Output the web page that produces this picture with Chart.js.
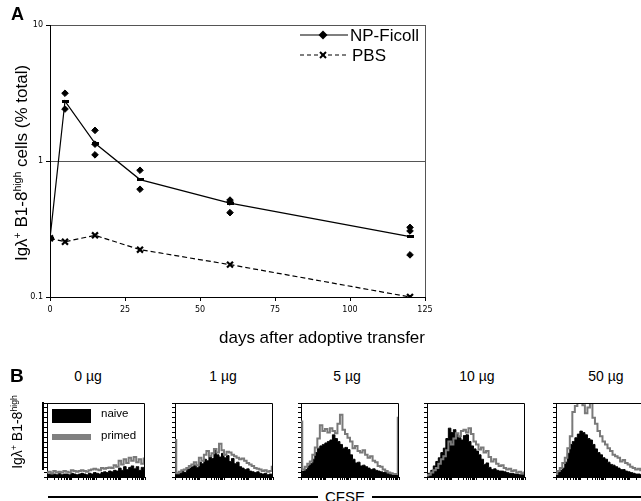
<!DOCTYPE html>
<html lang="en">
<head>
<meta charset="UTF-8">
<title>Igλ+ B1-8high cells after adoptive transfer</title>
<script src="https://cdn.jsdelivr.net/npm/chart.js"></script>
<style>
  body { margin: 0; width: 641px; height: 501px; overflow: hidden; background: #fff; position: relative;
         font-family: "Liberation Sans", Arial, sans-serif; color: #000; }
  canvas { position: absolute; }
  .txt { position: absolute; white-space: nowrap; }
  .rot { transform: rotate(-90deg); text-align: center; }
  sup { font-size: 0.62em; vertical-align: 0.55em; line-height: 0; }
</style>
</head>
<body>

<canvas id="chartA" width="641" height="353" style="left:0;top:0"></canvas>

<div class="txt" style="left:11px;top:4px;font-weight:bold;font-size:18px">A</div>
<div class="txt rot" style="left:-88px;top:153px;width:220px;height:20px;line-height:20px;font-size:17px">Igλ<sup>+</sup> B1-8<sup>high</sup> cells (% total)</div>
<div class="txt" style="right:216px;top:329px;font-size:17px;line-height:17px">days after adoptive transfer</div>

<div class="txt" style="left:10px;top:365px;font-weight:bold;font-size:19px">B</div>
<div id="doseRow"></div>
<div class="txt rot" style="left:-43px;top:422px;width:120px;height:20px;line-height:20px;font-size:14px">Igλ<sup>+</sup> B1-8<sup>high</sup></div>
<div style="position:absolute;left:42px;top:402px;width:2px;height:68px;background:#000"></div>

<div id="histRow"></div>

<!-- legenda do primeiro histograma -->
<div style="position:absolute;left:52px;top:409px;width:39px;height:14px;background:#000"></div>
<div class="txt" style="left:101px;top:407px;font-size:11.5px">naive</div>
<div style="position:absolute;left:52px;top:434px;width:39px;height:6px;background:#808080"></div>
<div class="txt" style="left:101px;top:429px;font-size:11.5px">primed</div>

<div style="position:absolute;left:48px;top:496px;width:600px;height:1.5px;background:#000"></div>
<div class="txt" style="left:318px;top:488px;padding:0 7px;background:#fff;font-size:15px">CFSE</div>

<script>
// ---- painel A ----
const days = [0, 5, 15, 30, 60, 120];
const npFicollMean = [0.27, 2.76, 1.35, 0.73, 0.49, 0.278];
const pbsMean = [0.27, 0.255, 0.284, 0.223, 0.173, 0.1];
const npMouseDays = [5, 5, 15, 15, 15, 30, 30, 60, 60, 60, 120, 120, 120];
const npMouseValues = [3.15, 2.41, 1.68, 1.33, 1.11, 0.855, 0.62, 0.516, 0.50, 0.417, 0.325, 0.306, 0.204];
const xTicksA = [0, 25, 50, 75, 100, 125];
const yTicksA = [0.1, 1, 10];

// ---- painel B (histogramas CFSE, 40 bins, % da altura da caixa) ----
const doses = ['0 µg', '1 µg', '5 µg', '10 µg', '50 µg'];
const naive0 = [3,4,3,4,3,5,3,4,4,3,5,4,3,4,5,4,3,5,4,6,5,4,6,7,6,8,7,9,8,12,9,14,10,13,15,11,14,9,13,10];
const primed0 = [6,7,5,8,6,7,6,8,7,6,9,8,7,8,9,8,7,9,10,11,10,9,12,11,12,13,12,16,14,22,17,24,19,26,22,27,20,24,18,25];
const naive1 = [22,4,5,8,6,10,12,14,16,13,20,18,24,22,28,25,37,30,27,32,26,29,21,25,18,20,14,12,10,11,8,7,6,7,5,4,5,3,4,3];
const primed1 = [50,5,7,9,10,12,15,17,20,16,26,22,30,35,28,32,38,33,45,36,30,34,33,30,28,26,24,25,22,19,17,15,12,11,10,8,9,7,8,14];
const naive5 = [4,8,10,15,18,24,33,39,42,44,46,48,50,57,52,48,44,39,40,37,30,24,19,20,15,16,14,12,10,11,9,8,7,6,6,5,4,3,3,2];
const primed5 = [75,10,14,18,21,30,40,52,70,62,65,60,66,62,59,72,84,64,58,53,48,39,42,35,33,36,30,26,28,22,20,15,14,10,8,6,5,4,4,80];
const naive10 = [3,5,9,15,21,26,33,39,52,66,60,64,58,53,50,56,57,48,42,38,35,30,24,17,19,13,10,11,9,8,8,7,6,5,5,4,4,3,3,3];
const primed10 = [2,3,6,9,12,18,24,28,36,48,44,52,59,55,62,64,60,66,58,48,44,37,40,33,35,27,21,24,18,15,16,12,10,11,8,9,6,7,5,6];
const naive50 = [3,6,9,12,20,32,44,48,53,58,62,60,57,52,50,44,38,33,30,26,24,20,17,16,14,12,10,10,8,7,6,5,4,4,3,3,3,2,2,2];
const primed50 = [4,8,12,19,26,39,55,88,96,100,100,97,86,94,100,80,72,62,55,48,44,39,35,30,28,26,21,23,19,17,14,12,10,11,9,8,7,6,6,5];
const naiveAll = [naive0, naive1, naive5, naive10, naive50];
const primedAll = [primed0, primed1, primed5, primed10, primed50];

// layout do painel B
const boxLeft = [47, 175, 301, 427, 556];
const doseCenter = [88, 223, 347, 477, 606];
const boxTop = 403, boxW = 98, boxH = 74;

const tickFont = { family: 'DejaVu Sans', size: 8 };

// marcador da media: tracinho horizontal
const dash = document.createElement('canvas');
dash.width = 7; dash.height = 3;
dash.getContext('2d').fillRect(0, 0, 7, 3);

const legendA = {
    id: 'legendA',
    afterDraw(chart) {
        const ctx = chart.ctx;
        const x0 = chart.chartArea.right - 125;
        const y1 = chart.chartArea.top + 10, y2 = chart.chartArea.top + 30;
        ctx.save();
        ctx.strokeStyle = '#000'; ctx.fillStyle = '#000';
        ctx.lineWidth = 1.2;
        ctx.beginPath(); ctx.moveTo(x0, y1); ctx.lineTo(x0 + 48, y1); ctx.stroke();
        ctx.beginPath();
        ctx.moveTo(x0 + 23, y1 - 4.5); ctx.lineTo(x0 + 27.5, y1); ctx.lineTo(x0 + 23, y1 + 4.5); ctx.lineTo(x0 + 18.5, y1);
        ctx.closePath(); ctx.fill();
        ctx.setLineDash([4, 3]);
        ctx.beginPath(); ctx.moveTo(x0, y2); ctx.lineTo(x0 + 48, y2); ctx.stroke();
        ctx.setLineDash([]);
        ctx.lineWidth = 2;
        ctx.beginPath();
        ctx.moveTo(x0 + 20, y2 - 3); ctx.lineTo(x0 + 26, y2 + 3);
        ctx.moveTo(x0 + 26, y2 - 3); ctx.lineTo(x0 + 20, y2 + 3);
        ctx.stroke();
        ctx.font = '17px "Liberation Sans", Arial, sans-serif';
        ctx.textBaseline = 'middle';
        ctx.fillText('NP-Ficoll', x0 + 50, y1 + 1);
        ctx.fillText('PBS', x0 + 52, y2 + 1);
        ctx.restore();
    }
};

new Chart(document.getElementById('chartA'), {
    type: 'line',
    data: {
        datasets: [
            {
                label: 'NP-Ficoll',
                data: days.map((d, i) => ({ x: d, y: npFicollMean[i] })),
                borderColor: '#000',
                borderWidth: 1.2,
                pointStyle: dash,
                pointRadius: 4,
                tension: 0
            },
            {
                label: 'NP-Ficoll (mice)',
                data: npMouseDays.map((d, i) => ({ x: d, y: npMouseValues[i] })),
                showLine: false,
                pointStyle: 'rectRot',
                pointRadius: 3.3,
                backgroundColor: '#000',
                borderColor: '#000',
                borderWidth: 1
            },
            {
                label: 'PBS',
                data: days.map((d, i) => ({ x: d, y: pbsMean[i] })),
                borderColor: '#000',
                borderWidth: 1.2,
                borderDash: [5, 3],
                pointStyle: 'crossRot',
                pointRadius: 4.2,
                pointBorderWidth: 2.2,
                pointBorderColor: '#000',
                tension: 0
            }
        ]
    },
    options: {
        responsive: false,
        animation: false,
        devicePixelRatio: 1,
        layout: { padding: { top: 25, right: 216, left: 0, bottom: 0 } },
        plugins: { legend: { display: false }, tooltip: { enabled: false } },
        scales: {
            x: {
                type: 'linear',
                min: 0,
                max: 125,
                afterBuildTicks: s => { s.ticks = xTicksA.map(v => ({ value: v })); },
                afterFit: s => { s.height = 56; },
                ticks: { font: tickFont, color: '#000', padding: 4, maxRotation: 0 },
                grid: {
                    color: c => (c.tick && c.tick.value === 125) ? '#555' : 'rgba(0,0,0,0)',
                    tickColor: '#000',
                    tickLength: 4
                },
                border: { color: '#000' }
            },
            y: {
                type: 'logarithmic',
                min: 0.1,
                max: 10,
                afterBuildTicks: s => { s.ticks = yTicksA.map(v => ({ value: v })); },
                afterFit: s => { s.width = 50; },
                ticks: { font: tickFont, color: '#000', padding: 3, callback: v => String(v) },
                grid: {
                    color: c => (c.tick && (c.tick.value === 1 || c.tick.value === 10)) ? '#555' : 'rgba(0,0,0,0)',
                    tickColor: '#000',
                    tickLength: 4
                },
                border: { color: '#000' }
            }
        }
    },
    plugins: [legendA]
});

// ---- histogramas ----
const cfseTicks = [];
[1, 10, 100, 1000].forEach(dec => { for (let k = 1; k < 10; k++) cfseTicks.push(dec * k); });
cfseTicks.push(10000);
const countTicks = [];
for (let k = 0; k <= 15; k++) countTicks.push(k * 100 / 15);

const boxBorder = {
    id: 'boxBorder',
    afterDraw(chart) {
        const { left, top, right, bottom } = chart.chartArea;
        const ctx = chart.ctx;
        ctx.save();
        ctx.strokeStyle = '#000';
        ctx.lineWidth = 1;
        ctx.beginPath();
        ctx.moveTo(left, top + 0.5);
        ctx.lineTo(right - 0.5, top + 0.5);
        ctx.lineTo(right - 0.5, bottom);
        ctx.stroke();
        ctx.restore();
    }
};

const histRow = document.getElementById('histRow');
const doseRow = document.getElementById('doseRow');

doses.forEach((dose, i) => {
    const lbl = document.createElement('div');
    lbl.className = 'txt';
    lbl.style.cssText = `left:${doseCenter[i] - 40}px;top:368px;width:80px;text-align:center;font-size:14px`;
    lbl.textContent = dose;
    doseRow.appendChild(lbl);

    const cv = document.createElement('canvas');
    cv.width = boxW + 8;
    cv.height = boxH + 8;
    cv.style.left = (boxLeft[i] - 6) + 'px';
    cv.style.top = (boxTop - 2) + 'px';
    histRow.appendChild(cv);

    new Chart(cv, {
        type: 'line',
        data: {
            labels: naiveAll[i].map((_, k) => k),
            datasets: [
                {
                    label: 'primed',
                    data: primedAll[i],
                    xAxisID: 'x',
                    borderColor: '#7a7a7a',
                    borderWidth: 2,
                    stepped: 'middle',
                    pointRadius: 0,
                    fill: false
                },
                {
                    label: 'naive',
                    data: naiveAll[i],
                    xAxisID: 'x',
                    borderColor: '#000',
                    backgroundColor: '#000',
                    borderWidth: 1,
                    stepped: 'middle',
                    pointRadius: 0,
                    fill: 'origin'
                }
            ]
        },
        options: {
            responsive: false,
            animation: false,
            devicePixelRatio: 1,
            layout: { padding: { top: 2, right: 2, left: 0, bottom: 0 } },
            plugins: { legend: { display: false }, tooltip: { enabled: false } },
            scales: {
                x: { display: false, offset: false },
                cfse: {
                    type: 'logarithmic',
                    position: 'bottom',
                    min: 1,
                    max: 10000,
                    afterBuildTicks: s => { s.ticks = cfseTicks.map(v => ({ value: v })); },
                    afterFit: s => { s.height = 6; },
                    ticks: { display: false },
                    grid: { drawOnChartArea: false, tickLength: 3, color: '#000' },
                    border: { color: '#000' }
                },
                y: {
                    min: 0,
                    max: 100,
                    afterBuildTicks: s => { s.ticks = countTicks.map(v => ({ value: v })); },
                    afterFit: s => { s.width = 6; },
                    ticks: { display: false },
                    grid: { drawOnChartArea: false, tickLength: 3, color: '#000' },
                    border: { color: '#000' }
                }
            }
        },
        plugins: [boxBorder]
    });
});
</script>
</body>
</html>
